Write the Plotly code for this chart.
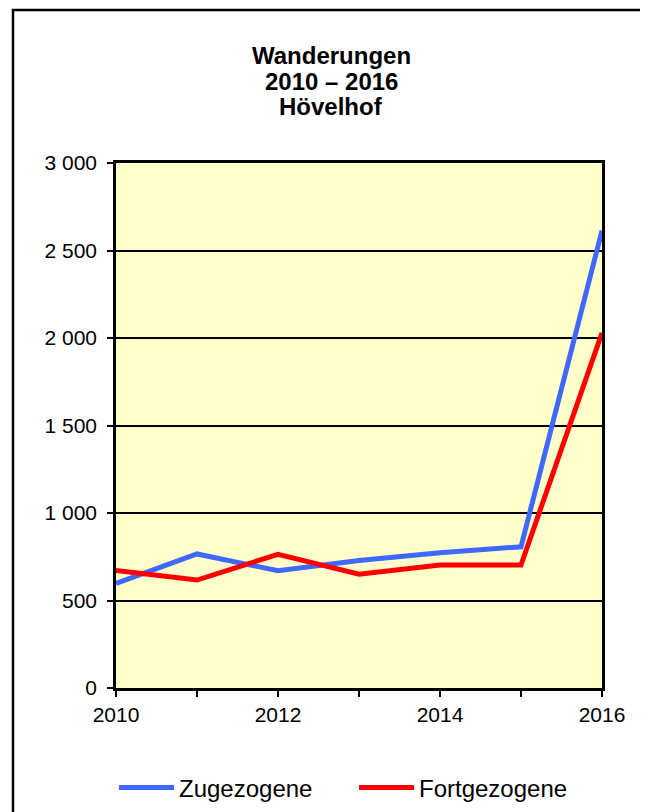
import plotly.graph_objects as go

years = [2010, 2011, 2012, 2013, 2014, 2015, 2016]
zugezogene = [598, 766, 670, 728, 773, 807, 2614]
fortgezogene = [672, 617, 764, 650, 703, 703, 2029]

y_ticks = [0, 500, 1000, 1500, 2000, 2500, 3000]
y_ticktext = ["0", "500", "1 000", "1 500", "2 000", "2 500", "3 000"]
x_ticktext = ["2010", "", "2012", "", "2014", "", "2016"]

title_lines = ["Wanderungen", "2010 – 2016", "Hövelhof"]

# figure coords (page has an 8px body margin)
W, H = 640, 840
L, R, T, B = 108, 594, 155, 680
pw, ph = R - L, B - T

def px(x):
    return (x - L) / pw

def py(y):
    return (B - y) / ph

fig = go.Figure()
fig.add_trace(go.Scatter(x=years, y=zugezogene, mode="lines", name="Zugezogene",
                         line=dict(color="#3F68FF", width=5)))
fig.add_trace(go.Scatter(x=years, y=fortgezogene, mode="lines", name="Fortgezogene",
                         line=dict(color="#FF0000", width=5)))

font = "Liberation Sans, Arial, sans-serif"

shapes = [
    dict(type="rect", xref="paper", yref="paper", x0=px(5), x1=px(635), y0=py(1200), y1=py(2),
         line=dict(color="black", width=2.5), fillcolor="rgba(0,0,0,0)", layer="below"),
    dict(type="rect", xref="paper", yref="paper", x0=px(636), x1=px(650), y0=py(1200), y1=py(7),
         line=dict(width=0), fillcolor="black", layer="below"),
]

annotations = []
for i, t in enumerate(title_lines):
    annotations.append(dict(text="<b>%s</b>" % t, xref="paper", yref="paper",
                            x=px(323), y=py(48 + 25.5 * i), xanchor="center", yanchor="middle",
                            showarrow=False, font=dict(family=font, size=24, color="black")))

fig.update_layout(
    width=W, height=H,
    margin=dict(l=L, r=W - R, t=T, b=H - B),
    paper_bgcolor="white",
    plot_bgcolor="#FFFFCC",
    showlegend=True,
    legend=dict(orientation="h", x=px(106), y=py(780), xanchor="left", yanchor="middle",
                font=dict(family=font, size=24, color="black"),
                itemwidth=55, entrywidth=170, entrywidthmode="pixels",
                bgcolor="rgba(0,0,0,0)"),
    shapes=shapes,
    annotations=annotations,
    xaxis=dict(range=[2010, 2016], tickvals=years, ticktext=x_ticktext,
               ticks="outside", ticklen=6, tickwidth=2, tickcolor="black",
               showline=True, linecolor="black", linewidth=2.5, mirror=True,
               showgrid=False, zeroline=False,
               tickfont=dict(family=font, size=21, color="black")),
    yaxis=dict(range=[0, 3000], tickvals=y_ticks, ticktext=y_ticktext,
               ticks="outside", ticklen=6, tickwidth=2, tickcolor="black",
               showline=True, linecolor="black", linewidth=2.5, mirror=True,
               showgrid=True, gridcolor="black", gridwidth=2, zeroline=False,
               ticklabelstandoff=6,
               tickfont=dict(family=font, size=21, color="black")),
)

fig.write_html("out.html")
